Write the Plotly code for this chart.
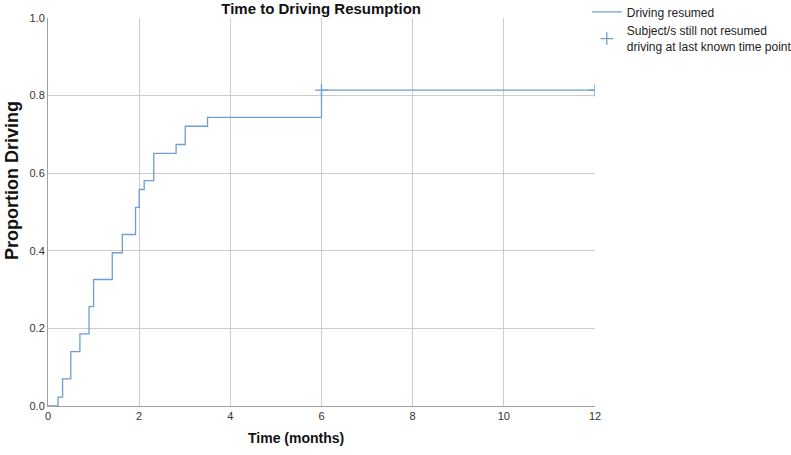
import plotly.graph_objects as go

# Kaplan-Meier style estimate (n ~ 43)
event_months = [0.22, 0.32, 0.50, 0.70, 0.90, 1.00, 1.41, 1.63, 1.92, 2.00,
                2.11, 2.32, 2.81, 3.01, 3.50, 6.00]
proportion_driving = [0.023, 0.070, 0.140, 0.186, 0.256, 0.326, 0.395, 0.442,
                      0.512, 0.558, 0.581, 0.651, 0.674, 0.721, 0.744, 0.814]
censor_months = [6.0, 12.0]
censor_props = [0.814, 0.814]

x_ticks = [0, 2, 4, 6, 8, 10, 12]
y_ticks = [0.0, 0.2, 0.4, 0.6, 0.8, 1.0]

line_col = '#6c9fd3'
grid_col = '#cccccc'

step_x = [0] + event_months + [max(censor_months)]
step_y = [0] + proportion_driving + [proportion_driving[-1]]

fig = go.Figure()

fig.add_trace(go.Scatter(
    x=step_x, y=step_y,
    mode='lines',
    line=dict(color=line_col, width=1.3, shape='hv'),
    name='Driving resumed',
))

fig.add_trace(go.Scatter(
    x=censor_months, y=censor_props,
    mode='markers',
    marker=dict(symbol='cross-thin', size=9, line=dict(color=line_col, width=1.3)),
    name='Subject/s still not resumed<br>driving at last known time point',
))

fig.update_layout(
    width=791, height=455,
    margin=dict(l=48, r=196, t=18, b=49, autoexpand=False),
    paper_bgcolor='white', plot_bgcolor='white',
    font=dict(family='Liberation Sans, Arial, sans-serif', size=11, color='#333333'),
    title=dict(text='<b>Time to Driving Resumption</b>', x=0.406, xanchor='center',
               y=0.980, yanchor='middle', font=dict(size=15, color='#111111')),
    showlegend=True,
    legend=dict(x=0.985, y=1.053, xanchor='left', yanchor='top',
                font=dict(size=12, color='#222222'), tracegroupgap=0,
                itemwidth=30, bgcolor='rgba(0,0,0,0)'),
    xaxis=dict(range=[0, 12], tickvals=x_ticks, showgrid=True, gridcolor=grid_col,
               gridwidth=1, zeroline=False, showline=True, linecolor='#a0a0a0',
               ticks='', automargin=False, tickfont=dict(size=11, color='#333333')),
    yaxis=dict(range=[0, 1.0], tickvals=y_ticks, tickformat='.1f', showgrid=True,
               gridcolor=grid_col, gridwidth=1, zeroline=False, showline=True,
               linecolor='#a0a0a0', ticks='', automargin=False,
               tickfont=dict(size=11, color='#333333')),
)

# axis titles sit off-centre in the original, so place them as paper annotations
fig.add_annotation(text='<b>Time (months)</b>', xref='paper', yref='paper',
                   x=(296 - 48) / 547, y=-(438 - 406) / 388, xanchor='center', yanchor='middle',
                   showarrow=False, font=dict(size=14, color='#111111'))
fig.add_annotation(text='<b>Proportion Driving</b>', xref='paper', yref='paper',
                   x=-(48 - 12) / 547, y=(406 - 181) / 388, xanchor='center', yanchor='middle',
                   textangle=-90, showarrow=False, font=dict(size=18, color='#111111'))

# page body has a default 8px margin; drop it so the figure sits at the window origin
fig.write_html('out.html', config={'displayModeBar': False},
               post_script="document.body.style.margin='0px';")
